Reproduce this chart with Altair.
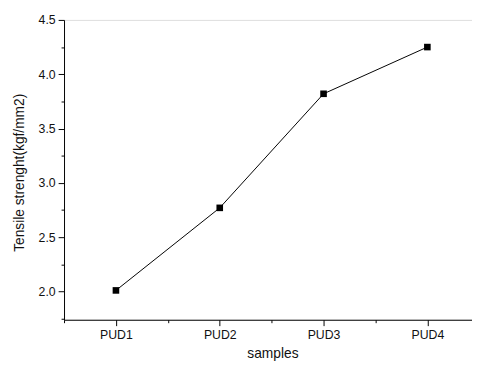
import altair as alt
import pandas as pd

samples = ["PUD1", "PUD2", "PUD3", "PUD4"]
idx = [1, 2, 3, 4]
strength = [2.01, 2.77, 3.82, 4.25]
y_major = [2.0, 2.5, 3.0, 3.5, 4.0, 4.5]
y_minor = [1.75, 2.25, 2.75, 3.25, 3.75, 4.25]
x_minor = [0.5, 1.5, 2.5, 3.5]

df = pd.DataFrame({"idx": idx, "sample": samples, "strength": strength})
FONT = "Liberation Sans"

xs = alt.Scale(domain=[0.5, 4.43], nice=False, zero=False)
ys = alt.Scale(domain=[1.74, 4.5], nice=False, zero=False)

common = dict(domainColor="black", domainWidth=1, tickColor="black", tickWidth=1,
              labelFont=FONT, labelFontSize=12.5, labelColor="#111111",
              titleFont=FONT, titleFontSize=14, titleFontWeight="normal", titleColor="#111111",
              grid=False)

base = alt.Chart(df)

line = base.mark_line(color="black", strokeWidth=1).encode(
    x=alt.X("idx:Q", scale=xs,
            axis=alt.Axis(values=idx, labelExpr="'PUD' + datum.label", title="samples",
                          orient="bottom", tickSize=6, labelPadding=3,
                          titleX=212, titleY=27, titleBaseline="top", **common)),
    y=alt.Y("strength:Q", scale=ys,
            axis=alt.Axis(values=y_major, format=".1f", title="Tensile strenght(kgf/mm2)",
                          orient="left", tickSize=6, labelPadding=3,
                          titleAngle=-90, titleX=-45, titleY=155, titleAlign="center",
                          titleBaseline="middle", **common)),
)

pts = base.mark_point(shape="square", filled=True, color="black", size=45, opacity=1).encode(
    x=alt.X("idx:Q", scale=xs, axis=None), y=alt.Y("strength:Q", scale=ys, axis=None)
)

minor = base.mark_point(opacity=0).encode(
    x=alt.X("idx:Q", scale=xs,
            axis=alt.Axis(values=x_minor, labels=False, title=None, domain=False,
                          orient="bottom", tickSize=3, tickColor="black", grid=False)),
    y=alt.Y("strength:Q", scale=ys,
            axis=alt.Axis(values=y_minor, labels=False, title=None, domain=False,
                          orient="left", tickSize=3, tickColor="black", grid=False)),
)

chart = alt.layer(line, pts, minor).resolve_axis(x="independent", y="independent").properties(
    width=415, height=305,
    autosize=alt.AutoSizeParams(type="none"),
    padding={"left": 57, "top": 9, "right": 0, "bottom": 48},
).configure_view(stroke=None).configure(background="white")

chart.save("out.html", embed_options={"renderer": "svg", "actions": False})
